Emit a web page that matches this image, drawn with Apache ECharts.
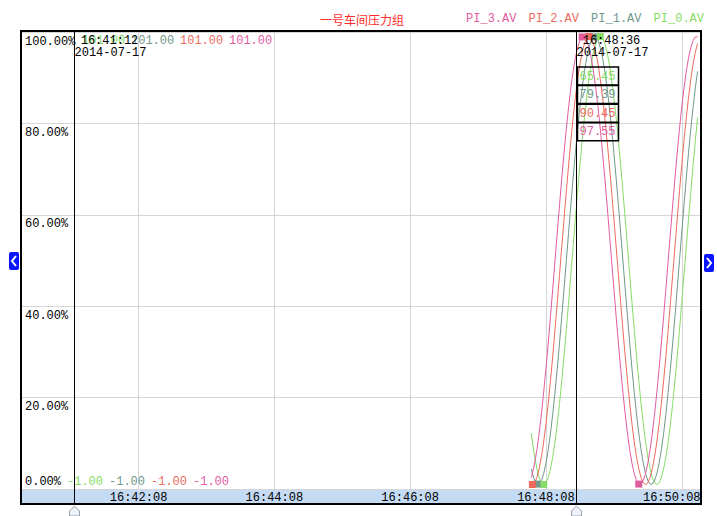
<!DOCTYPE html>
<html><head><meta charset="utf-8">
<script src="https://cdn.jsdelivr.net/npm/echarts@6/dist/echarts.min.js"></script>
<style>html,body{margin:0;padding:0;background:#fff}#c{width:717px;height:516px}</style>
</head><body><div id="c"></div>
<script>
// ---------------- data ----------------
const chartTitle = '一号车间压力组';
const chartDate = '2014-07-17';
const seriesNames = ['PI_0.AV', 'PI_1.AV', 'PI_2.AV', 'PI_3.AV'];
const legendOrder = ['PI_3.AV', 'PI_2.AV', 'PI_1.AV', 'PI_0.AV'];
const viewStart = '16:40:25';
const viewEnd = '16:50:25';
const xTickLabels = ['16:42:08', '16:44:08', '16:46:08', '16:48:08', '16:50:08'];
const yTickValues = [0, 20, 40, 60, 80, 100];
const penHigh = [101, 101, 101, 101];
const penLow = [-1, -1, -1, -1];
const cursorTimes = ['16:41:12', '16:48:36'];

const times = [
 '16:47:55','16:47:56','16:47:58',
 '16:48:00','16:48:02','16:48:04','16:48:06','16:48:08','16:48:10','16:48:12','16:48:14','16:48:16','16:48:18',
 '16:48:20','16:48:22','16:48:24','16:48:26','16:48:28','16:48:30','16:48:32','16:48:34','16:48:36','16:48:38',
 '16:48:40','16:48:42','16:48:44','16:48:46','16:48:48','16:48:50','16:48:52','16:48:54','16:48:56','16:48:58',
 '16:49:00','16:49:02','16:49:04','16:49:06','16:49:08','16:49:10','16:49:12','16:49:14','16:49:16','16:49:18',
 '16:49:20','16:49:22','16:49:24','16:49:26','16:49:28','16:49:30','16:49:32','16:49:34','16:49:36','16:49:38',
 '16:49:40','16:49:42','16:49:44','16:49:46','16:49:48','16:49:50','16:49:52','16:49:54','16:49:56','16:49:58',
 '16:50:00','16:50:02','16:50:04','16:50:06','16:50:08','16:50:10','16:50:12','16:50:14','16:50:16','16:50:18',
 '16:50:20','16:50:22'
];
const pi0 = [
 11.47, 9.55, 6.18, 3.51, 1.57, 0.39,
 0, 0.39, 1.57, 3.51, 6.18, 9.55, 13.55, 18.13, 23.21, 28.71, 34.55, 40.63, 46.86, 53.14, 59.37, 65.45, 71.29,
 76.79, 81.87, 86.45, 90.45, 93.82, 96.49, 98.43, 99.61, 100, 99.61, 98.43, 96.49, 93.82, 90.45, 86.45, 81.87,
 76.79, 71.29, 65.45, 59.37, 53.14, 46.86, 40.63, 34.55, 28.71, 23.21, 18.13, 13.55, 9.55, 6.18, 3.51, 1.57, 0.39,
 0, 0.39, 1.57, 3.51, 6.18, 9.55, 13.55, 18.13, 23.21, 28.71, 34.55, 40.63, 46.86, 53.14, 59.37, 65.45, 71.29,
 76.79, 81.87
];
const pi1 = [
 3.51, 2.45, 0.89, 0.10,
 0.10, 0.89, 2.45, 4.76, 7.78, 11.47, 15.77, 20.61, 25.91, 31.59, 37.57, 43.73, 50.00, 56.27, 62.43, 68.41, 74.09,
 79.39, 84.23, 88.53, 92.22, 95.24, 97.55, 99.11, 99.90, 99.90, 99.11, 97.55, 95.24, 92.22, 88.53, 84.23, 79.39,
 74.09, 68.41, 62.43, 56.27, 50.00, 43.73, 37.57, 31.59, 25.91, 20.61, 15.77, 11.47, 7.78, 4.76, 2.45, 0.89, 0.10,
 0.10, 0.89, 2.45, 4.76, 7.78, 11.47, 15.77, 20.61, 25.91, 31.59, 37.57, 43.73, 50.00, 56.27, 62.43, 68.41, 74.09,
 79.39, 84.23, 88.53, 92.22
];
const pi2 = [
 0.10,
 0, 0.39, 1.57, 3.51, 6.18, 9.55, 13.55, 18.13, 23.21, 28.71, 34.55, 40.63, 46.86, 53.14, 59.37, 65.45, 71.29,
 76.79, 81.87, 86.45, 90.45, 93.82, 96.49, 98.43, 99.61, 100, 99.61, 98.43, 96.49, 93.82, 90.45, 86.45, 81.87,
 76.79, 71.29, 65.45, 59.37, 53.14, 46.86, 40.63, 34.55, 28.71, 23.21, 18.13, 13.55, 9.55, 6.18, 3.51, 1.57, 0.39,
 0, 0.39, 1.57, 3.51, 6.18, 9.55, 13.55, 18.13, 23.21, 28.71, 34.55, 40.63, 46.86, 53.14, 59.37, 65.45, 71.29,
 76.79, 81.87, 86.45, 90.45, 93.82, 96.49, 98.43
];
const pi3 = [
 1.57,
 2.45, 4.76, 7.78, 11.47, 15.77, 20.61, 25.91, 31.59, 37.57, 43.73, 50.00, 56.27, 62.43, 68.41, 74.09, 79.39,
 84.23, 88.53, 92.22, 95.24, 97.55, 99.11, 99.90, 99.90, 99.11, 97.55, 95.24, 92.22, 88.53, 84.23, 79.39, 74.09,
 68.41, 62.43, 56.27, 50.00, 43.73, 37.57, 31.59, 25.91, 20.61, 15.77, 11.47, 7.78, 4.76, 2.45, 0.89, 0.10,
 0.10, 0.89, 2.45, 4.76, 7.78, 11.47, 15.77, 20.61, 25.91, 31.59, 37.57, 43.73, 50.00, 56.27, 62.43, 68.41, 74.09,
 79.39, 84.23, 88.53, 92.22, 95.24, 97.55, 99.11, 99.90, 99.90
];
const seriesValues = [pi0, pi1, pi2, pi3];

// ---------------- style ----------------
const seriesColors = ['#86dc66', '#6f978a', '#ec6a5c', '#df5c9f'];
const MONO = '"Liberation Mono", "DejaVu Sans Mono", monospace';
const GRID = { left: 22, right: 16, top: 32, bottom: 27 };

function toSec(s) { const p = s.split(':').map(Number); return p[0] * 3600 + p[1] * 60 + p[2]; }
function pad(n) { return (n < 10 ? '0' : '') + n; }
function secToStr(v) { v = Math.round(v); return pad(Math.floor(v / 3600)) + ':' + pad(Math.floor(v % 3600 / 60)) + ':' + pad(v % 60); }

const xTicks = xTickLabels.map(toSec);
const lastTick = xTicks[xTicks.length - 1];

const chart = echarts.init(document.getElementById('c'), null, { renderer: 'svg' });

const series = seriesNames.map((name, k) => ({
  name: name,
  type: 'line',
  xAxisIndex: 0,
  yAxisIndex: 1,
  data: times.map((t, i) => [toSec(t), seriesValues[k][i]]),
  showSymbol: false,
  symbol: 'none',
  silent: true,
  color: seriesColors[k],
  lineStyle: { width: 1, color: seriesColors[k] },
  markPoint: {
    symbol: 'rect',
    symbolSize: 7,
    silent: true,
    label: { show: false },
    itemStyle: { color: seriesColors[k] },
    data: [{ type: 'max' }, { type: 'min' }]
  }
}));

chart.setOption({
  animation: false,
  backgroundColor: '#fff',
  title: {
    text: chartTitle, left: 320, top: 13, padding: 0,
    textStyle: { color: '#ff2b2b', fontSize: 12, fontWeight: 'normal', fontFamily: '"Noto Sans CJK SC", sans-serif' }
  },
  legend: {
    data: legendOrder.map(n => ({ name: n, textStyle: { color: seriesColors[seriesNames.indexOf(n)] } })),
    right: 13, top: 13, padding: 0, itemGap: 1.5, itemWidth: 0, itemHeight: 14,
    itemStyle: { opacity: 0 }, lineStyle: { opacity: 0 },
    selectedMode: false,
    textStyle: { fontSize: 12, fontFamily: MONO }
  },
  grid: Object.assign({ containLabel: false, outerBoundsMode: 'none' }, GRID),
  xAxis: {
    type: 'value',
    min: toSec(viewStart), max: toSec(viewEnd),
    axisLine: { show: false },
    axisTick: { show: false, customValues: xTicks },
    splitLine: { show: true, lineStyle: { color: '#d6d6d6', width: 1 } },
    axisLabel: {
      customValues: xTicks, margin: 3, color: '#000', fontSize: 12, fontFamily: MONO,
      formatter: v => (v === lastTick ? '{r|' + secToStr(v) + '}' : secToStr(v)),
      rich: { r: { padding: [0, 20, 0, 0], fontSize: 12, fontFamily: MONO, color: '#000' } }
    }
  },
  yAxis: [
    {
      type: 'value', min: 0, max: 100, interval: 20,
      axisLine: { show: false }, axisTick: { show: false },
      splitLine: { show: true, lineStyle: { color: '#d6d6d6', width: 1 } },
      axisLabel: {
        inside: true, margin: 3, color: '#000', fontSize: 12, fontFamily: MONO,
        formatter: v => (v === 0 ? '{b|' + v.toFixed(2) + '%}' : '{t|' + v.toFixed(2) + '%}'),
        rich: {
          t: { padding: [19, 0, 0, 0], fontSize: 12, fontFamily: MONO, color: '#000' },
          b: { padding: [0, 0, 14, 0], fontSize: 12, fontFamily: MONO, color: '#000' }
        }
      }
    },
    { type: 'value', min: -1, max: 101, show: false, splitLine: { show: false } }
  ],
  series: series
});

// ---------------- overlay (cursors, readouts, frame) ----------------
const g = [];
const gl = GRID.left, gt = GRID.top, gb = 516 - GRID.bottom;
g.push({ type: 'rect', z: -10, silent: true, shape: { x: gl, y: gb + 1, width: 678, height: 13 }, style: { fill: '#c5dbf4' } });
g.push({ type: 'rect', z: 20, silent: true, shape: { x: 21, y: 31, width: 680, height: 473 }, style: { fill: null, stroke: '#000', lineWidth: 2 } });

// pen range labels beside the 100% and 0% labels
penHigh.forEach((v, k) => g.push({ type: 'text', z: 15, silent: true, x: 82 + k * 49, y: 41,
  style: { text: v.toFixed(2), fill: seriesColors[k], font: '12px ' + MONO, verticalAlign: 'middle', align: 'left' } }));
penLow.forEach((v, k) => g.push({ type: 'text', z: 15, silent: true, x: 67 + k * 42, y: 482,
  style: { text: v.toFixed(2), fill: seriesColors[k], font: '12px ' + MONO, verticalAlign: 'middle', align: 'left' } }));

cursorTimes.forEach(ct => {
  const cx = Math.floor(chart.convertToPixel({ xAxisIndex: 0 }, toSec(ct))) - 0.5;
  g.push({ type: 'line', z: 16, silent: true, shape: { x1: cx, y1: gt, x2: cx, y2: 504 }, style: { stroke: '#000', lineWidth: 1 } });
  g.push({ type: 'polygon', z: 16, silent: true,
    shape: { points: [[cx - 5, 516], [cx - 5, 511], [cx, 506], [cx + 5, 511], [cx + 5, 516]] },
    style: { fill: '#eef2fa', stroke: '#9aa0aa', lineWidth: 1 } });
  g.push({ type: 'text', z: 17, silent: true, x: cx + 35, y: 41,
    style: { text: ct, fill: '#000', font: '12px ' + MONO, align: 'center', verticalAlign: 'middle' } });
  g.push({ type: 'text', z: 17, silent: true, x: cx, y: 53,
    style: { text: chartDate, fill: '#000', font: '12px ' + MONO, align: 'left', verticalAlign: 'middle' } });
  const idx = times.indexOf(ct);
  if (idx >= 0) {
    seriesValues.forEach((arr, k) => {
      const by = 67 + k * 18.6;
      g.push({ type: 'rect', z: 17, silent: true, shape: { x: cx + 1, y: by, width: 41, height: 18 },
        style: { fill: null, stroke: '#000', lineWidth: 1.5 } });
      g.push({ type: 'text', z: 18, silent: true, x: cx + 3, y: by + 9.5,
        style: { text: arr[idx].toFixed(2), fill: seriesColors[k], font: '12px ' + MONO, align: 'left', verticalAlign: 'middle' } });
    });
  }
});

// scroll buttons
g.push({ type: 'rect', z: 20, silent: true, shape: { x: 9, y: 252, width: 10, height: 18, r: 2 }, style: { fill: '#0a14ff' } });
g.push({ type: 'polyline', z: 21, silent: true, shape: { points: [[16, 256], [12, 261], [16, 266]] }, style: { stroke: '#fff', lineWidth: 2, fill: null } });
g.push({ type: 'rect', z: 20, silent: true, shape: { x: 704, y: 254, width: 10, height: 18, r: 2 }, style: { fill: '#0a14ff' } });
g.push({ type: 'polyline', z: 21, silent: true, shape: { points: [[707, 258], [711, 263], [707, 268]] }, style: { stroke: '#fff', lineWidth: 2, fill: null } });

chart.setOption({ graphic: { elements: g } });
</script>
</body></html>
